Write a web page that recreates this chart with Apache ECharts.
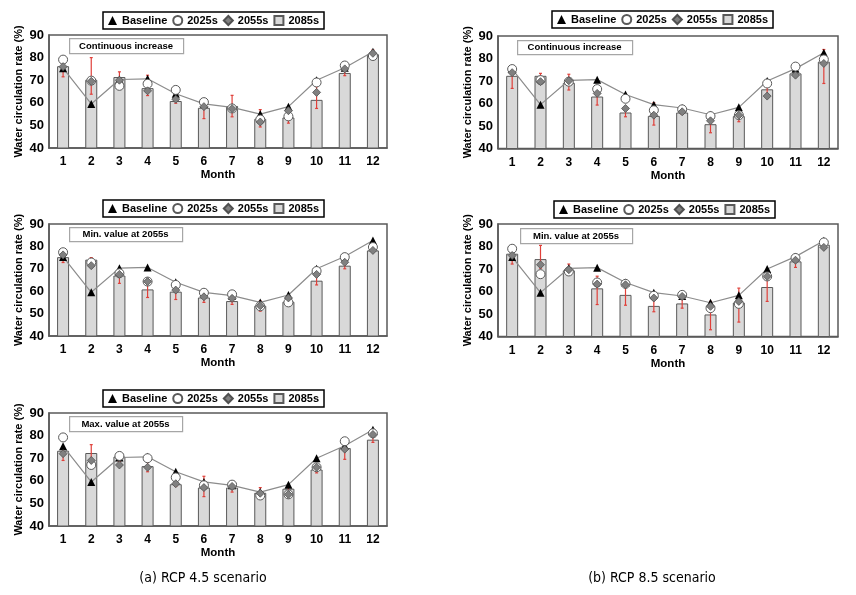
<!DOCTYPE html>
<html><head><meta charset="utf-8">
<script src="https://cdn.jsdelivr.net/npm/echarts@6/dist/echarts.min.js"></script>
<style>html,body{margin:0;padding:0;background:#fff}#c{width:856px;height:595px}</style>
</head><body><div id="c"></div>
<script>
// ---------- data ----------
const months = ['1','2','3','4','5','6','7','8','9','10','11','12'];
const yTicks = [40, 50, 60, 70, 80, 90];
const baseline = [75.3, 59.5, 70.3, 70.6, 64.0, 59.5, 58.0, 55.0, 58.3, 70.0, 75.5, 82.6];

// (a) RCP 4.5 - Continuous increase
const rcp45Inc2025 = [79.1, 69.8, 67.5, 68.4, 65.7, 60.3, 57.5, 52.6, 54.0, 69.0, 76.5, 80.7];
const rcp45Inc2055 = [76.0, 69.5, 70.0, 65.3, 61.6, 58.3, 57.4, 51.5, 56.5, 64.6, 75.0, 81.9];
const rcp45Inc2085 = [76.2, 70.2, 71.4, 66.5, 60.8, 57.8, 58.6, 52.9, 53.5, 61.3, 73.2, 81.5];
const rcp45IncLow  = [71.5, 63.8, 68.7, 63.2, 59.8, 53.0, 53.8, 49.3, 51.0, 57.5, 72.0, 80.7];
const rcp45IncHigh = [77.5, 80.0, 73.7, 72.2, 62.8, 61.3, 63.3, 57.0, 53.5, 67.2, 75.0, 83.4];

// (b) RCP 8.5 - Continuous increase
const rcp85Inc2025 = [75.3, 70.4, 69.7, 66.4, 62.1, 57.0, 57.4, 54.4, 54.8, 68.9, 76.4, 79.6];
const rcp85Inc2055 = [73.7, 69.7, 70.1, 64.5, 57.8, 54.8, 56.3, 52.3, 54.8, 63.3, 72.6, 77.8];
const rcp85Inc2085 = [72.3, 72.3, 69.2, 63.1, 56.0, 54.5, 56.0, 50.8, 54.4, 66.3, 73.4, 78.6];
const rcp85IncLow  = [66.7, 70.7, 66.0, 59.3, 54.1, 50.4, 55.3, 47.0, 51.9, 63.7, 72.6, 68.9];
const rcp85IncHigh = [73.4, 73.4, 73.0, 64.2, 57.8, 60.3, 56.3, 51.5, 54.4, 68.2, 75.2, 84.0];

// (a) RCP 4.5 - Min. value at 2055s
const rcp45Min2025 = [77.4, 72.8, 68.0, 64.3, 62.8, 59.3, 58.6, 53.3, 55.0, 69.0, 75.2, 79.7];
const rcp45Min2055 = [76.2, 71.4, 67.5, 64.3, 60.5, 57.5, 56.8, 53.5, 57.0, 67.5, 72.9, 78.2];
const rcp45Min2085 = [75.2, 74.1, 67.0, 60.8, 59.8, 57.2, 55.6, 53.5, 55.3, 64.7, 71.4, 78.2];
const rcp45MinLow  = [72.8, 71.7, 63.5, 57.2, 56.3, 55.0, 54.1, 51.1, 55.3, 62.8, 70.0, 78.2];
const rcp45MinHigh = [75.2, 75.0, 68.4, 63.2, 60.2, 57.2, 55.6, 55.6, 55.3, 68.0, 73.0, 79.0];

// (b) RCP 8.5 - Min. value at 2055s
const rcp85Min2025 = [79.0, 67.7, 68.9, 64.0, 63.4, 58.1, 58.5, 52.6, 54.5, 66.7, 74.9, 81.8];
const rcp85Min2055 = [76.0, 71.9, 69.7, 63.3, 63.0, 57.1, 57.8, 53.4, 55.6, 66.7, 73.9, 79.6];
const rcp85Min2085 = [76.8, 74.4, 69.4, 61.4, 58.5, 53.6, 54.7, 49.8, 55.1, 62.0, 73.4, 80.8];
const rcp85MinLow  = [72.2, 70.4, 68.5, 54.2, 53.9, 51.0, 52.6, 43.0, 46.4, 55.6, 70.7, 80.0];
const rcp85MinHigh = [77.5, 80.5, 72.2, 66.8, 63.0, 57.1, 57.8, 55.6, 61.5, 67.4, 73.9, 82.0];

// (a) RCP 4.5 - Max. value at 2055s
const rcp45Max2025 = [79.2, 67.0, 71.0, 70.0, 61.5, 58.0, 58.3, 53.5, 54.0, 66.0, 77.5, 81.0];
const rcp45Max2055 = [72.0, 69.0, 67.0, 66.0, 58.7, 57.0, 57.5, 54.5, 54.0, 66.0, 74.0, 80.5];
const rcp45Max2085 = [73.3, 72.3, 70.7, 66.5, 58.5, 57.0, 57.0, 54.7, 56.5, 65.0, 74.5, 78.2];
const rcp45MaxLow  = [69.0, 69.0, 68.5, 64.0, 57.5, 53.0, 55.0, 54.0, 54.0, 63.5, 69.5, 77.0];
const rcp45MaxHigh = [75.0, 76.0, 70.5, 68.5, 58.5, 62.0, 58.5, 57.0, 57.5, 66.5, 76.0, 81.0];

const seriesNames = ['Baseline', '2025s', '2055s', '2085s'];
const notes = ['Continuous increase', 'Continuous increase', 'Min. value at 2055s', 'Min. value at 2055s', 'Max. value at 2055s'];
const captions = ['(a) RCP 4.5 scenario', '(b) RCP 8.5 scenario'];

// ---------- panels ----------
const panels = [
  {note: notes[0], s25: rcp45Inc2025, s55: rcp45Inc2055, s85: rcp45Inc2085, lo: rcp45IncLow, hi: rcp45IncHigh},
  {note: notes[1], s25: rcp85Inc2025, s55: rcp85Inc2055, s85: rcp85Inc2085, lo: rcp85IncLow, hi: rcp85IncHigh},
  {note: notes[2], s25: rcp45Min2025, s55: rcp45Min2055, s85: rcp45Min2085, lo: rcp45MinLow, hi: rcp45MinHigh},
  {note: notes[3], s25: rcp85Min2025, s55: rcp85Min2055, s85: rcp85Min2085, lo: rcp85MinLow, hi: rcp85MinHigh},
  {note: notes[4], s25: rcp45Max2025, s55: rcp45Max2055, s85: rcp45Max2085, lo: rcp45MaxLow, hi: rcp45MaxHigh}
];
const layout = [
  {grid: {left: 49, top: 35, width: 338, height: 113}, legend: {left: 103, top: 12}, box: {x: 69, y: 38, w: 114, h: 15}},
  {grid: {left: 498, top: 36, width: 340, height: 112.5}, legend: {left: 552, top: 11}, box: {x: 517, y: 40, w: 115, h: 14}},
  {grid: {left: 49, top: 224, width: 338, height: 112}, legend: {left: 103, top: 200}, box: {x: 69, y: 227, w: 113, h: 14}},
  {grid: {left: 498, top: 224, width: 340, height: 112.5}, legend: {left: 554, top: 201}, box: {x: 520, y: 228, w: 112, h: 15}},
  {grid: {left: 49, top: 413, width: 338, height: 113}, legend: {left: 103, top: 390}, box: {x: 69, y: 416, w: 113, h: 15}}
];

const FONT = '"Liberation Sans", Arial, sans-serif';
const AXC = '#595959';

function renderErr(params, api) {
  const x = api.value(0);
  const lo = api.coord([x, api.value(1)]);
  const hi = api.coord([x, api.value(2)]);
  const cap = 1.5;
  const style = {stroke: '#e0403a', lineWidth: 1.2};
  return {type: 'group', children: [
    {type: 'line', shape: {x1: lo[0], y1: lo[1], x2: hi[0], y2: hi[1]}, style: style},
    {type: 'line', shape: {x1: lo[0] - cap, y1: lo[1], x2: lo[0] + cap, y2: lo[1]}, style: style},
    {type: 'line', shape: {x1: hi[0] - cap, y1: hi[1], x2: hi[0] + cap, y2: hi[1]}, style: style}
  ]};
}

const grids = [], xAxes = [], yAxes = [], series = [], legends = [], graphics = [];
panels.forEach((p, i) => {
  const L = layout[i];
  grids.push(Object.assign({show: true, borderColor: AXC, borderWidth: 1.5, backgroundColor: '#fff'}, L.grid));
  xAxes.push({
    gridIndex: i, type: 'category', data: months, boundaryGap: true,
    axisLine: {show: true, lineStyle: {color: AXC, width: 1.5}}, axisTick: {show: false},
    axisLabel: {color: '#000', fontWeight: 'bold', fontSize: 12, fontFamily: FONT, margin: 8, interval: 0},
    name: 'Month', nameLocation: 'middle', nameGap: 21,
    nameTextStyle: {color: '#000', fontWeight: 'bold', fontSize: 11.5, fontFamily: FONT}
  });
  yAxes.push({
    gridIndex: i, type: 'value', min: yTicks[0], max: yTicks[yTicks.length - 1], interval: 10,
    axisLine: {show: true, lineStyle: {color: AXC, width: 1.5}}, axisTick: {show: false}, splitLine: {show: false},
    axisLabel: {color: '#000', fontWeight: 'bold', fontSize: 13, fontFamily: FONT, margin: 5},
    name: 'Water circulation rate (%)', nameLocation: 'middle', nameGap: 25,
    nameTextStyle: {color: '#000', fontWeight: 'bold', fontSize: 11, fontFamily: FONT}
  });
  series.push({
    name: seriesNames[3], type: 'bar', xAxisIndex: i, yAxisIndex: i, data: p.s85, barWidth: 12, z: 2,
    itemStyle: {color: '#d9d9d9', borderColor: '#595959', borderWidth: 1}
  });
  series.push({
    name: 'err', type: 'custom', xAxisIndex: i, yAxisIndex: i, z: 3, renderItem: renderErr,
    encode: {x: 0, y: [1, 2]},
    data: months.map((m, k) => [k, p.lo[k], p.hi[k]])
  });
  series.push({
    name: seriesNames[0], type: 'line', xAxisIndex: i, yAxisIndex: i, data: baseline, z: 4,
    symbol: 'triangle', symbolSize: 8, showAllSymbol: true,
    lineStyle: {color: '#8c8c8c', width: 1.2}, itemStyle: {color: '#000'}
  });
  series.push({
    name: seriesNames[1], type: 'scatter', xAxisIndex: i, yAxisIndex: i, data: p.s25, z: 5,
    symbol: 'circle', symbolSize: 9,
    itemStyle: {color: '#fff', borderColor: '#595959', borderWidth: 1, opacity: 1}
  });
  series.push({
    name: seriesNames[2], type: 'scatter', xAxisIndex: i, yAxisIndex: i, data: p.s55, z: 6,
    symbol: 'diamond', symbolSize: 8,
    itemStyle: {color: '#808080', borderColor: '#505050', borderWidth: 0.8, opacity: 1}
  });
  legends.push({
    left: L.legend.left, top: L.legend.top, orient: 'horizontal',
    backgroundColor: '#fff', borderColor: '#000', borderWidth: 1.5, padding: [2, 5, 2, 5],
    itemWidth: 9, itemHeight: 9, itemGap: 5, selectedMode: false,
    textStyle: {color: '#000', fontWeight: 'bold', fontSize: 11, fontFamily: FONT, lineHeight: 13},
    data: [
      {name: seriesNames[0], icon: 'triangle'},
      {name: seriesNames[1], icon: 'circle'},
      {name: seriesNames[2], icon: 'diamond'},
      {name: seriesNames[3], icon: 'rect'}
    ]
  });
  graphics.push({
    type: 'rect', left: L.box.x, top: L.box.y, z: 100,
    shape: {width: L.box.w, height: L.box.h},
    style: {fill: '#fff', stroke: '#a6a6a6', lineWidth: 1.2}
  });
  graphics.push({
    type: 'text', x: L.box.x + L.box.w / 2, y: L.box.y + L.box.h / 2 + 0.5, z: 101,
    style: {text: p.note, fill: '#000', font: 'bold 9.5px ' + FONT, textAlign: 'center', textVerticalAlign: 'middle'}
  });
});
graphics.push({
  type: 'text', x: 203, y: 578, z: 101,
  style: {text: captions[0], fill: '#000', font: '14px "DejaVu Sans Condensed", "Liberation Sans Narrow", sans-serif', textAlign: 'center', textVerticalAlign: 'middle'}
});
graphics.push({
  type: 'text', x: 652, y: 578, z: 101,
  style: {text: captions[1], fill: '#000', font: '14px "DejaVu Sans Condensed", "Liberation Sans Narrow", sans-serif', textAlign: 'center', textVerticalAlign: 'middle'}
});

const chart = echarts.init(document.getElementById('c'), null, {renderer: 'canvas'});
chart.setOption({
  backgroundColor: '#fff',
  animation: false,
  grid: grids, xAxis: xAxes, yAxis: yAxes, series: series, legend: legends, graphic: graphics
});
</script></body></html>
